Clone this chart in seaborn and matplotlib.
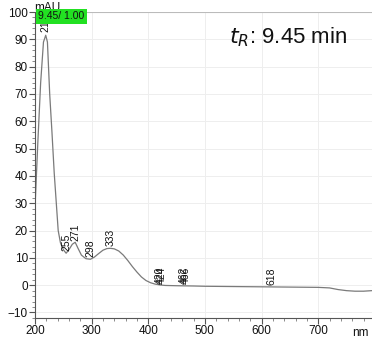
import matplotlib
matplotlib.use("Agg")
import matplotlib.pyplot as plt
import seaborn as sns
import pandas as pd
from matplotlib.ticker import MultipleLocator

wavelength = [200, 205, 210, 215, 219, 222, 226, 230, 234, 238, 241, 245, 250, 255,
              260, 266, 271, 276, 282, 290, 298, 305, 312, 320, 327, 333, 340, 348,
              356, 364, 372, 380, 388, 396, 404, 412, 420, 430, 450, 480, 500, 550,
              600, 650, 700, 720, 735, 750, 765, 780, 795]
absorbance = [28, 52, 74, 89, 91.5, 89, 70, 56, 41, 29, 20, 15.5, 13, 11.7,
              13, 15, 15.7, 13.5, 11, 9.7, 9.5, 10.3, 11.5, 12.8, 13.4, 13.5, 13.3, 12.5,
              11, 9, 6.8, 4.8, 3, 1.7, 0.9, 0.4, 0.1, -0.1, -0.2, -0.3, -0.4, -0.5,
              -0.6, -0.7, -0.8, -1.0, -1.6, -2.0, -2.2, -2.2, -2.0]

peak_labels = ["219", "255", "271", "298", "333", "420", "424", "462", "466", "618"]
peak_x = [219, 255, 271, 298, 333, 420, 424, 462, 466, 618]
peak_y = [92.5, 12.5, 16.3, 10.2, 14.2, 0.6, 0.6, 0.4, 0.4, 0.2]

x_ticks = [200, 300, 400, 500, 600, 700]
y_ticks = [-10, 0, 10, 20, 30, 40, 50, 60, 70, 80, 90, 100]

sns.set_theme(style="white")
plt.rcParams['font.family'] = ['Liberation Sans', 'DejaVu Sans']

df = pd.DataFrame({"wl": wavelength, "abs": absorbance})

fig = plt.figure(figsize=(3.72, 3.43), dpi=100)
ax = fig.add_axes([0.094, 0.073, 0.906, 0.892])
sns.lineplot(data=df, x="wl", y="abs", ax=ax, color="#7a7a7a", linewidth=0.9)

ax.set_xlim(200, 795)
ax.set_ylim(-12, 100)
ax.set_xticks(x_ticks)
ax.set_yticks(y_ticks)
ax.xaxis.set_minor_locator(MultipleLocator(20))
ax.yaxis.set_minor_locator(MultipleLocator(2))
ax.tick_params(axis="both", which="major", direction="out", length=4, width=0.8,
               color="#555555", labelsize=8.5, labelcolor="#111111", pad=1,
               bottom=True, left=True)
ax.tick_params(axis="both", which="minor", direction="out", length=2, width=0.6,
               color="#777777", bottom=True, left=True)
ax.grid(True, which="major", color="#eeeeee", linewidth=0.7)
ax.set_xlabel("")
ax.set_ylabel("")
for s in ["top", "right"]:
    ax.spines[s].set_visible(False)
for s in ["left", "bottom"]:
    ax.spines[s].set_color("#555555")
    ax.spines[s].set_linewidth(0.8)
ax.axhline(100, color="#bbbbbb", linewidth=0.8)

for lab, px, py in zip(peak_labels, peak_x, peak_y):
    ax.text(px, py, lab, rotation=90, ha="center", va="bottom", fontsize=7.5, color="#111111")

ax.text(0.99, -0.03, "nm", transform=ax.transAxes, ha="right", va="top", fontsize=8.5,
        color="#111111")
fig.text(0.092, 0.995, "mAU", ha="left", va="top", fontsize=8.5, color="#111111")
fig.text(0.103, 0.953, "9.45/ 1.00", ha="left", va="center", fontsize=7.5, color="#111111",
         bbox=dict(boxstyle="square,pad=0.25", facecolor="#22e022", edgecolor="none"))
ax.text(0.575, 0.955, "$t_R$: 9.45 min", transform=ax.transAxes, ha="left", va="top",
        fontsize=16, color="#111111")

fig.savefig("out.png", dpi=100)
